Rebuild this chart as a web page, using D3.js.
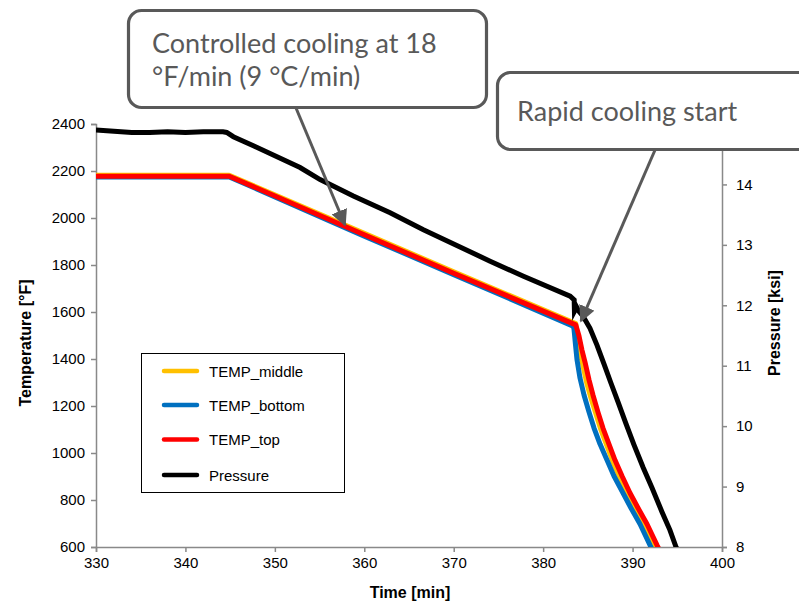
<!DOCTYPE html>
<html>
<head>
<meta charset="utf-8">
<script src="https://cdn.jsdelivr.net/npm/d3@7"></script>
<style>
  html, body { margin: 0; padding: 0; background: #fff; }
  svg { display: block; }
</style>
</head>
<body>
<svg id="chart" width="799" height="608"></svg>
<script>
// ---------- DATA ----------
const xTicks = [330, 340, 350, 360, 370, 380, 390, 400];
const tempTicks = [600, 800, 1000, 1200, 1400, 1600, 1800, 2000, 2200, 2400];
const pressTicks = [8, 9, 10, 11, 12, 13, 14, 15];

const seriesNames = ["TEMP_middle", "TEMP_bottom", "TEMP_top", "Pressure"];
const seriesColors = ["#FFC000", "#0070C0", "#FF0000", "#000000"];

// [time (min), temperature (°F)]
const tempMiddle = [
  [330, 2182], [337, 2182], [344.9, 2182], [360, 1935], [370, 1771], [383.65, 1551],
  [383.9, 1481], [384.18, 1417], [384.51, 1362], [384.9, 1294], [385.35, 1234],
  [385.91, 1166], [386.47, 1098], [387.14, 1030], [387.81, 962], [388.59, 894],
  [389.49, 826], [390.38, 762], [391.39, 694], [392.39, 608], [392.73, 583]
];
const tempBottom = [
  [330, 2175], [337, 2175], [344.9, 2175], [360, 1923], [370, 1759], [383.35, 1540],
  [383.45, 1528], [383.62, 1460], [383.79, 1396], [384.12, 1319], [384.57, 1247],
  [385.13, 1174], [385.69, 1106], [386.36, 1038], [387.14, 970], [387.92, 902],
  [388.93, 830], [389.82, 766], [390.83, 698], [391.95, 608], [392.28, 583]
];
const tempTop = [
  [330, 2178], [337, 2178], [344.9, 2178], [360, 1929], [370, 1765], [383.65, 1545],
  [384.01, 1498], [384.34, 1438], [384.68, 1387], [385.13, 1311], [385.57, 1247],
  [386.13, 1174], [386.69, 1106], [387.36, 1038], [388.03, 970], [388.82, 902],
  [389.71, 830], [390.61, 766], [391.61, 698], [392.73, 608], [393.07, 583]
];
// [time (min), pressure (ksi)]
const pressure = [
  [330, 14.90], [332, 14.88], [334, 14.86], [336, 14.86], [338, 14.87], [340, 14.86],
  [342, 14.87], [344.2, 14.87], [344.62, 14.86], [345.36, 14.79], [347.6, 14.64],
  [352.82, 14.28], [355.06, 14.08], [358.78, 13.81], [362.89, 13.53], [366.61, 13.25],
  [374.07, 12.73], [377.8, 12.48], [383.02, 12.15], [383.47, 12.09], [383.5, 11.9],
  [383.75, 11.97], [384.0, 11.9], [384.46, 11.82], [385.24, 11.62], [386.02, 11.34],
  [386.8, 11.03], [387.59, 10.71], [388.37, 10.40], [389.26, 10.04], [390.16, 9.69],
  [391.17, 9.32], [392.17, 8.98], [393.29, 8.58], [394.18, 8.28], [394.86, 8.00],
  [395.08, 7.92]
];

const callout1 = ["Controlled cooling at 18", "°F/min (9 °C/min)"];
const callout2 = ["Rapid cooling start"];

// ---------- LAYOUT ----------
const svg = d3.select("#chart");
const L = 96, R = 722, T = 124, B = 547;
const axisColor = "#898989";
const calloutColor = "#595959";

const x = d3.scaleLinear([330, 400], [L, R]);
const yT = d3.scaleLinear([600, 2400], [B, T]);
const yP = d3.scaleLinear([8, 15], [B, T]);

const defs = svg.append("defs");
defs.append("clipPath").attr("id", "plotclip")
  .append("rect").attr("x", L).attr("y", T - 10).attr("width", R - L).attr("height", B - T + 10);

function styleAxis(g) {
  g.selectAll("path.domain").attr("stroke", axisColor).attr("stroke-width", 1.5);
  g.selectAll(".tick line").attr("stroke", axisColor).attr("stroke-width", 1.5);
  g.selectAll(".tick text").attr("font-family", "'Liberation Sans', Arial, sans-serif")
    .attr("font-size", 15).attr("fill", "#000");
}

svg.append("g").attr("transform", `translate(0,${B})`)
  .call(d3.axisBottom(x).tickValues(xTicks).tickFormat(d3.format("d")).tickSizeOuter(0).tickSize(5).tickPadding(5))
  .call(styleAxis);

svg.append("g").attr("transform", `translate(${L},0)`)
  .call(d3.axisLeft(yT).tickValues(tempTicks).tickFormat(d3.format("d")).tickSizeOuter(0).tickSize(5).tickPadding(6))
  .call(styleAxis);

svg.append("g").attr("transform", `translate(${R},0)`)
  .call(d3.axisRight(yP).tickValues(pressTicks).tickFormat(d3.format("d")).tickSizeOuter(0).tickSize(5).tickPadding(9))
  .call(styleAxis);

// axis titles
const titleFont = "'Liberation Sans', Arial, sans-serif";
svg.append("text").attr("x", 410).attr("y", 598).attr("text-anchor", "middle")
  .attr("font-family", titleFont).attr("font-weight", "bold").attr("font-size", 16).text("Time [min]");
svg.append("text").attr("transform", "translate(31,343) rotate(-90)").attr("text-anchor", "middle")
  .attr("font-family", titleFont).attr("font-weight", "bold").attr("font-size", 16).text("Temperature [°F]");
svg.append("text").attr("transform", "translate(780,323) rotate(-90)").attr("text-anchor", "middle")
  .attr("font-family", titleFont).attr("font-weight", "bold").attr("font-size", 16).text("Pressure [ksi]");

// lines
const plot = svg.append("g").attr("clip-path", "url(#plotclip)");
const lineT = d3.line().x(d => x(d[0])).y(d => yT(d[1])).curve(d3.curveLinear);
const lineP = d3.line().x(d => x(d[0])).y(d => yP(d[1])).curve(d3.curveLinear);

const tempSeries = [tempMiddle, tempBottom, tempTop];
tempSeries.forEach((s, i) => {
  plot.append("path").datum(s).attr("d", lineT).attr("fill", "none")
    .attr("stroke", seriesColors[i]).attr("stroke-width", 5).attr("stroke-linejoin", "round");
});
plot.append("path").datum(pressure).attr("d", lineP).attr("fill", "none")
  .attr("stroke", seriesColors[3]).attr("stroke-width", 5).attr("stroke-linejoin", "miter");

// legend
const lg = svg.append("g");
lg.append("rect").attr("x", 141.5).attr("y", 353.5).attr("width", 203).attr("height", 139)
  .attr("fill", "#fff").attr("stroke", "#000").attr("stroke-width", 1);
const legY = [371, 405, 439.5, 475];
seriesNames.forEach((n, i) => {
  lg.append("line").attr("x1", 164).attr("x2", 197).attr("y1", legY[i]).attr("y2", legY[i])
    .attr("stroke", seriesColors[i]).attr("stroke-width", 4.5).attr("stroke-linecap", "round");
  lg.append("text").attr("x", 209).attr("y", legY[i] + 5.5).attr("font-family", titleFont)
    .attr("font-size", 15).attr("fill", "#000").text(n);
});

// callouts
defs.append("marker").attr("id", "arrow").attr("viewBox", "0 0 10 10")
  .attr("refX", 9).attr("refY", 5).attr("markerWidth", 5.5).attr("markerHeight", 5.5)
  .attr("markerUnits", "strokeWidth").attr("orient", "auto")
  .append("path").attr("d", "M0,0 L10,5 L0,10 z").attr("fill", calloutColor);

const calloutFont = "Lato, 'Open Sans', sans-serif";

svg.append("line").attr("x1", 296).attr("y1", 108).attr("x2", 345).attr("y2", 225)
  .attr("stroke", calloutColor).attr("stroke-width", 3).attr("marker-end", "url(#arrow)");
svg.append("line").attr("x1", 655).attr("y1", 150).attr("x2", 581).attr("y2", 321)
  .attr("stroke", calloutColor).attr("stroke-width", 3).attr("marker-end", "url(#arrow)");

svg.append("rect").attr("x", 128.5).attr("y", 10.5).attr("width", 358).attr("height", 97).attr("rx", 13)
  .attr("fill", "#fff").attr("stroke", calloutColor).attr("stroke-width", 3.2);
callout1.forEach((t, i) => {
  svg.append("text").attr("x", 152).attr("y", 53 + i * 33).attr("font-family", calloutFont)
    .attr("font-size", 27).attr("fill", calloutColor).text(t);
});

svg.append("rect").attr("x", 497.5).attr("y", 72.5).attr("width", 330).attr("height", 77).attr("rx", 13)
  .attr("fill", "#fff").attr("stroke", calloutColor).attr("stroke-width", 3.2);
callout2.forEach(t => {
  svg.append("text").attr("x", 517).attr("y", 121).attr("font-family", calloutFont)
    .attr("font-size", 27).attr("fill", calloutColor).text(t);
});
</script>
</body>
</html>
